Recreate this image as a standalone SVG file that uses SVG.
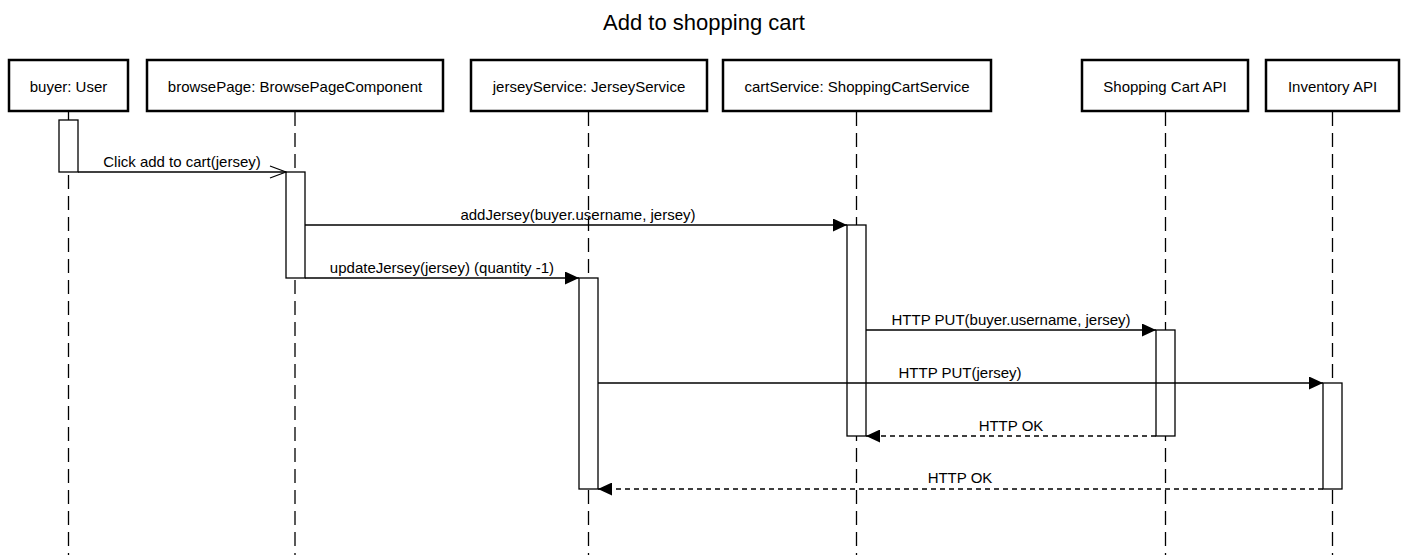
<svg xmlns="http://www.w3.org/2000/svg" width="1407" height="555" viewBox="0 0 1407 555">
<style>
text{font-family:"Liberation Sans",Arial,Helvetica,sans-serif;fill:#000;}
.title{font-size:22px;text-anchor:middle;}
.hdr{font-size:15px;text-anchor:middle;}
.lbl{font-size:15px;text-anchor:middle;}
.box{fill:#fff;stroke:#000;stroke-width:2.5;}
.life{stroke:#000;stroke-width:1.3;stroke-dasharray:14 7;fill:none;}
.bar{fill:#fff;stroke:#000;stroke-width:1.3;}
.msg{stroke:#000;stroke-width:1.3;fill:none;}
.ret{stroke:#000;stroke-width:1.3;fill:none;stroke-dasharray:5 4;}
</style>
<defs>
<marker id="fill" viewBox="0 0 14 13" refX="14" refY="6.5" markerWidth="14" markerHeight="13" markerUnits="userSpaceOnUse" orient="auto">
<path d="M0,0 L14,6.5 L0,13 Z" fill="#000"/>
</marker>
<marker id="open" viewBox="0 0 18 14" refX="17" refY="7" markerWidth="18" markerHeight="14" markerUnits="userSpaceOnUse" orient="auto">
<path d="M1,1 L17,7 L1,13" fill="none" stroke="#000" stroke-width="1.3"/>
</marker>
</defs>
<rect width="1407" height="555" fill="#fff"/>
<text class="title" x="704" y="30">Add to shopping cart</text>

<g id="lifelines">
<line class="life" x1="68.5" y1="112" x2="68.5" y2="555"/>
<line class="life" x1="295" y1="112" x2="295" y2="555"/>
<line class="life" x1="588.5" y1="112" x2="588.5" y2="555"/>
<line class="life" x1="856.5" y1="112" x2="856.5" y2="555"/>
<line class="life" x1="1165.5" y1="112" x2="1165.5" y2="555"/>
<line class="life" x1="1332.5" y1="112" x2="1332.5" y2="555"/>
</g>

<g id="buyer">
<rect class="box" x="9" y="60" width="119" height="51"/>
<text class="hdr" x="68.5" y="92">buyer: User</text>
<rect class="bar" x="59" y="120" width="19" height="52"/>
</g>
<g id="browsePage">
<rect class="box" x="147" y="60" width="296" height="51"/>
<text class="hdr" x="295" y="92">browsePage: BrowsePageComponent</text>
<rect class="bar" x="286" y="172" width="19" height="106"/>
</g>
<g id="jerseyService">
<rect class="box" x="471" y="60" width="236" height="51"/>
<text class="hdr" x="589" y="92">jerseyService: JerseyService</text>
<rect class="bar" x="579" y="278" width="19" height="211"/>
</g>
<g id="cartService">
<rect class="box" x="723" y="60" width="268" height="51"/>
<text class="hdr" x="857" y="92">cartService: ShoppingCartService</text>
<rect class="bar" x="847" y="225" width="19" height="211"/>
</g>
<g id="shoppingCartApi">
<rect class="box" x="1082" y="60" width="166" height="51"/>
<text class="hdr" x="1165" y="92">Shopping Cart API</text>
<rect class="bar" x="1156" y="330" width="19" height="106"/>
</g>
<g id="inventoryApi">
<rect class="box" x="1266" y="60" width="133" height="51"/>
<text class="hdr" x="1332.5" y="92">Inventory API</text>
<rect class="bar" x="1323" y="383" width="19" height="106"/>
</g>

<g id="connectors">
<line class="msg" x1="78" y1="172" x2="286" y2="172" marker-end="url(#open)"/>
<text class="lbl" x="182" y="167">Click add to cart(jersey)</text>
<line class="msg" x1="305" y1="225" x2="847" y2="225" marker-end="url(#fill)"/>
<text class="lbl" x="578" y="220">addJersey(buyer.username, jersey)</text>
<line class="msg" x1="305" y1="278" x2="579" y2="278" marker-end="url(#fill)"/>
<text class="lbl" x="442" y="273">updateJersey(jersey) (quantity -1)</text>
<line class="msg" x1="866" y1="330" x2="1156" y2="330" marker-end="url(#fill)"/>
<text class="lbl" x="1011" y="325">HTTP PUT(buyer.username, jersey)</text>
<line class="msg" x1="598" y1="383" x2="1323" y2="383" marker-end="url(#fill)"/>
<text class="lbl" x="960" y="378">HTTP PUT(jersey)</text>
<line class="ret" x1="1156" y1="436" x2="866" y2="436" marker-end="url(#fill)"/>
<text class="lbl" x="1011" y="431">HTTP OK</text>
<line class="ret" x1="1323" y1="489" x2="598" y2="489" marker-end="url(#fill)"/>
<text class="lbl" x="960" y="483">HTTP OK</text>
</g>
</svg>
